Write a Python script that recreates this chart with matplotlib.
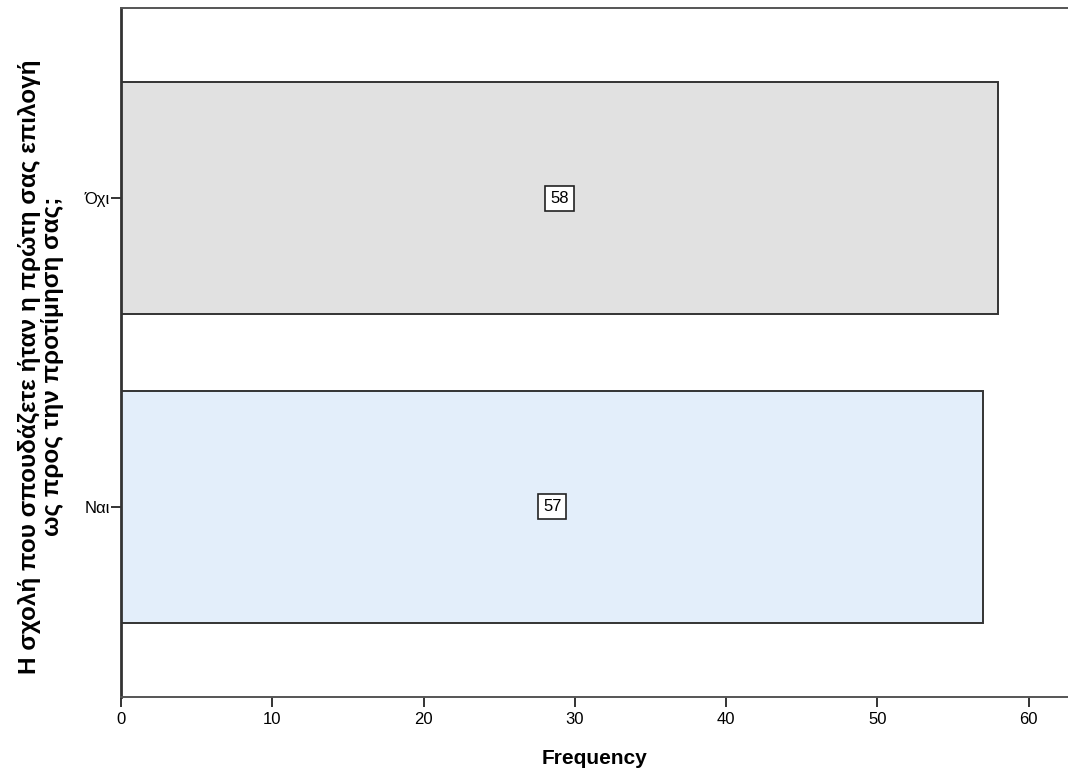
import matplotlib.pyplot as plt

categories = ['Ναι', 'Όχι']
counts = [57, 58]
colors = ['#e3eefa', '#e1e1e1']

plt.rcParams['font.family'] = ['Liberation Sans', 'DejaVu Sans']

fig = plt.figure(figsize=(10.68, 7.8), dpi=100)
ax = fig.add_axes([121 / 1068, 1 - 697 / 780, (1068 - 121) / 1068, (697 - 8) / 780])

pos = range(len(categories))
ax.barh(pos, counts, height=0.75, color=colors, edgecolor='#333333', linewidth=1.4)
for p, c in zip(pos, counts):
    ax.text(c / 2, p, str(c), ha='center', va='center', fontsize=12,
            bbox=dict(boxstyle='square,pad=0.3', fc='white', ec='#222222', lw=1.2))

ax.set_xlim(0, 62.6)
ax.set_ylim(-0.615, 1.615)
ax.set_yticks(list(pos))
ax.set_yticklabels(categories, fontsize=12)
ax.set_xticks(range(0, 61, 10))
ax.tick_params(axis='x', labelsize=12, length=7, width=1.4, color='#333333')
ax.tick_params(axis='y', length=7, width=1.4, color='#333333', pad=1)
for s in ax.spines.values():
    s.set_color('#555555')
    s.set_linewidth(1.4)
ax.spines['right'].set_visible(False)
ax.spines['left'].set_color('#333333')
ax.spines['left'].set_linewidth(2)

ax.set_xlabel('Frequency', fontsize=15, fontweight='bold', labelpad=16)
ax.set_ylabel('Η σχολή που σπουδάζετε ήταν η πρώτη σας επιλογή\nως προς την προτίμηση σας;',
              fontsize=17.5, fontweight='bold', linespacing=1.0)
ax.yaxis.set_label_coords(-0.06, 0.48)

fig.savefig('out.png', dpi=100)
